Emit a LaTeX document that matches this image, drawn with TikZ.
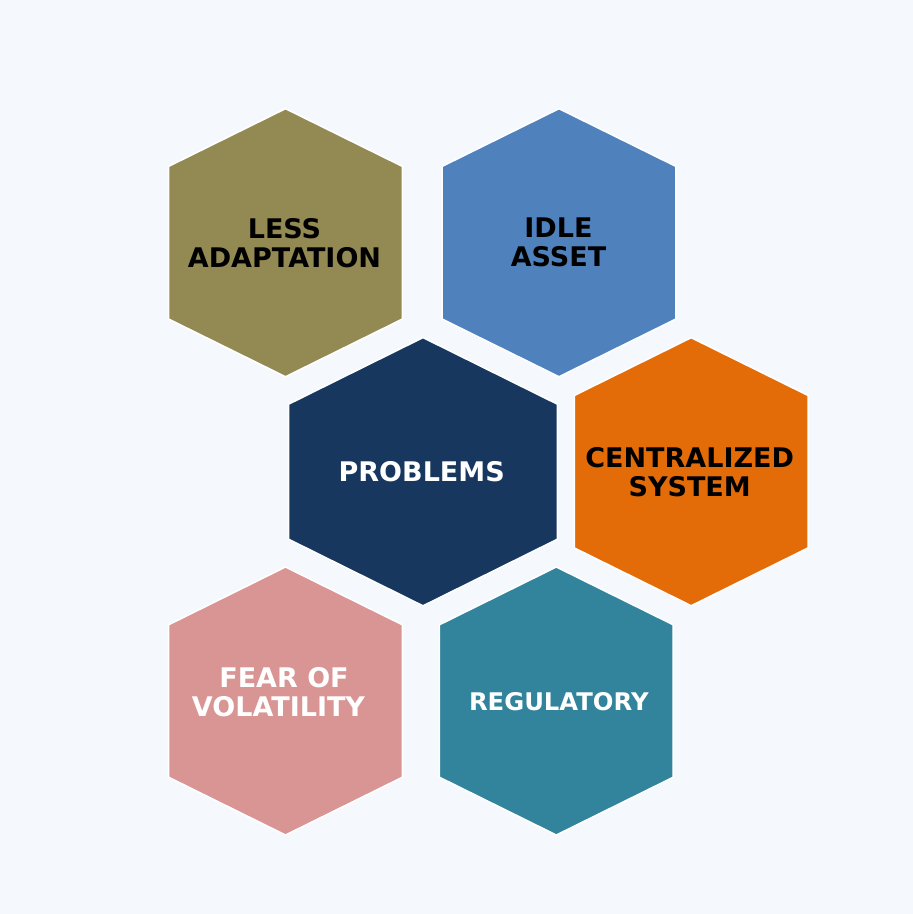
\documentclass[tikz,border=0pt]{standalone}
\usepackage{fontspec}
\setmainfont{DejaVu Sans}
\definecolor{bgc}{HTML}{F5F9FE}
\definecolor{olive}{HTML}{938953}
\definecolor{skyb}{HTML}{4F81BD}
\definecolor{navy}{HTML}{17375E}
\definecolor{orng}{HTML}{E36C09}
\definecolor{pinkc}{HTML}{D99594}
\definecolor{teal}{HTML}{31849B}
\newcommand{\hexshape}[6]{% cx cy w h c colour
  \fill[#6, draw=white, line width=1.5pt, line join=miter]
    (#1,#2-#4) -- (#1+#3,#2-#5) -- (#1+#3,#2+#5) -- (#1,#2+#4)
    -- (#1-#3,#2+#5) -- (#1-#3,#2-#5) -- cycle;}
\tikzset{
  lbl/.style={inner sep=0pt, align=center, anchor=center,
    font=\fontsize{27}{29.5}\selectfont\bfseries},
}
\begin{document}
\begin{tikzpicture}[x=1pt,y=-1pt]
\fill[bgc] (0,0) rectangle (913,914);
\useasboundingbox (0,0) rectangle (913,914);
\hexshape{285.5}{242.7}{116.9}{134}{76.3}{olive}
\hexshape{559}{242.7}{116.9}{134}{76.3}{skyb}
\hexshape{423}{471.7}{134.4}{134.1}{67.5}{navy}
\hexshape{691.2}{471.7}{116.9}{134}{76.2}{orng}
\hexshape{285.5}{701}{116.9}{134}{76.2}{pinkc}
\hexshape{556.3}{701}{116.9}{134}{76.2}{teal}
\node[lbl, text=black] (less) at (284.5,243) {LESS\\ADAPTATION};
\node[lbl, text=black] (idle) at (558.5,242.2) {IDLE\\ASSET};
\node[lbl, text=white] (prob) at (421.7,471.2) {PROBLEMS};
\node[lbl, text=black] (cent) at (689.7,472.2) {CENTRALIZED\\SYSTEM};
\node[lbl, text=white] (fear) at (284,692.2) {FEAR OF\\VOLATILITY\hspace*{11pt}};
\node[lbl, text=white, font=\fontsize{24.3}{28}\selectfont\bfseries] (reg) at (558.8,701.2) {REGULATORY};
\end{tikzpicture}
\end{document}
